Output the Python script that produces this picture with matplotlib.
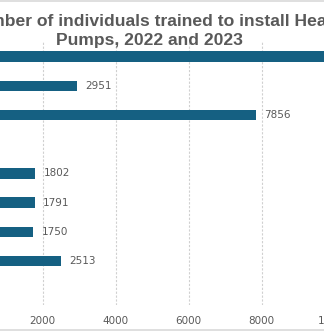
import matplotlib
matplotlib.use('Agg')
import matplotlib.pyplot as plt
from matplotlib.lines import Line2D

# data
categories = ['Total', '2022', '2023', '', 'Q1 2023', 'Q2 2023', 'Q3 2023', 'Q4 2023', '']
values = [10807, 2951, 7856, None, 1802, 1791, 1750, 2513, None]
xticks = [0, 2000, 4000, 6000, 8000, 10000, 12000]

bar_col = '#156082'
text_col = '#595959'
grid_col = '#d0d0d0'

W, H = 324, 331
fig = plt.figure(figsize=(W / 100, H / 100), dpi=100)

# the chart is cut on both sides, so the axes run past the figure edges
x0_px, span_px = -30.5, 365.0  # pixel of x=0 and width of 0..10000
top_px, bot_px = 42, 305
ax = fig.add_axes([x0_px / W, (H - bot_px) / H, span_px * 12000 / 10000 / W, (bot_px - top_px) / H])

pos = list(range(len(categories)))
for p, v in zip(pos, values):
    if v is None:
        continue
    ax.barh(p, v, height=0.36, color=bar_col, zorder=3)
    ax.annotate(str(v), (v, p), xytext=(6, 0), textcoords='offset points',
                va='center', ha='left', fontsize=7.5, color=text_col)

ax.set_ylim(len(categories) - 0.5, -0.5)
ax.set_xlim(0, 12000)
ax.set_xticks(xticks)
ax.set_xticklabels([str(t) for t in xticks])
ax.set_yticks(pos)
ax.set_yticklabels(categories)
ax.tick_params(axis='x', length=0, labelsize=7.5, labelcolor=text_col, pad=8)
ax.tick_params(axis='y', length=0)
ax.grid(axis='x', color=grid_col, linestyle=(0, (2, 1.5)), linewidth=0.8, zorder=0)
for s in ax.spines.values():
    s.set_visible(False)

# title
fig.text(149.5 / W, 1 - 31 / H, 'Number of individuals trained to install Heat\nPumps, 2022 and 2023',
         ha='center', va='center', fontsize=12.6, fontweight='bold', color=text_col,
         family='Liberation Sans', linespacing=1.3)

# chart border, top and bottom
fig.add_artist(Line2D([0, 1], [1 - 1 / H, 1 - 1 / H], transform=fig.transFigure, color='#d9d9d9', lw=1.2))
fig.add_artist(Line2D([0, 1], [1 / H, 1 / H], transform=fig.transFigure, color='#d9d9d9', lw=1.2))

fig.savefig('out.png', dpi=100)
